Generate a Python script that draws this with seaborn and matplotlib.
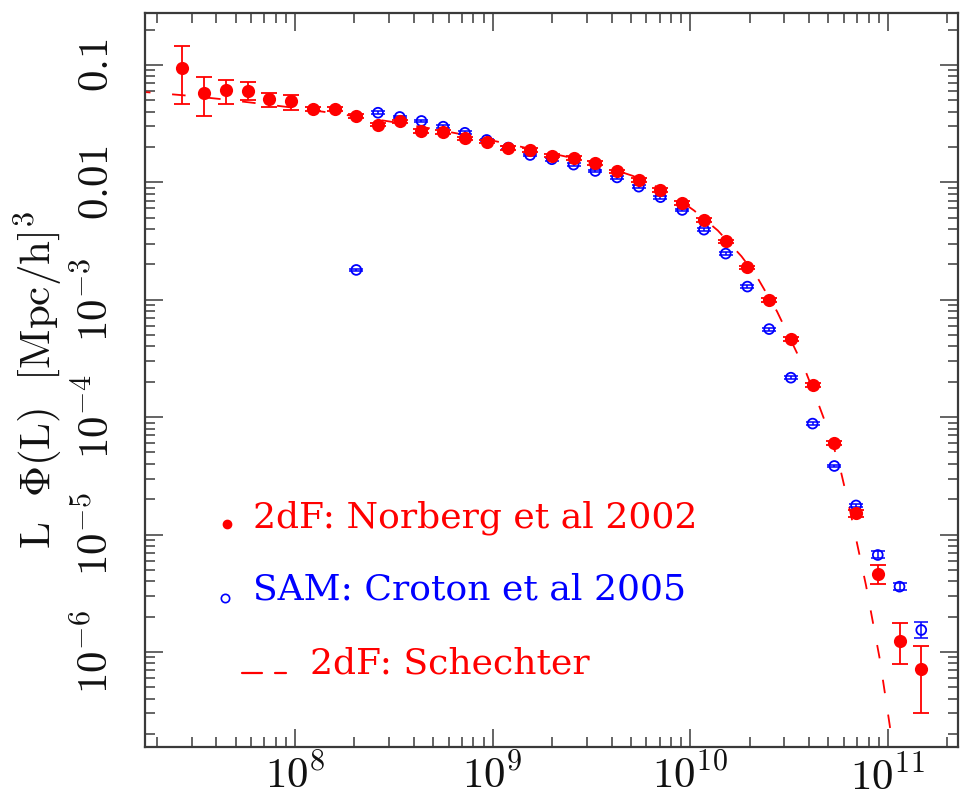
import numpy as np
import matplotlib
matplotlib.use("Agg")
import matplotlib.pyplot as plt
import seaborn as sns
import pandas as pd
from matplotlib.ticker import LogLocator, NullFormatter

# ---------------- data (log10 values) ----------------
log_L_2df = [7.43, 7.54, 7.65, 7.76, 7.87, 7.98, 8.09, 8.20, 8.31, 8.42, 8.53, 8.64,
             8.75, 8.86, 8.97, 9.08, 9.19, 9.30, 9.41, 9.52, 9.63, 9.74, 9.85, 9.96,
             10.07, 10.18, 10.29, 10.40, 10.51, 10.62, 10.73, 10.84, 10.95, 11.06, 11.17]
log_phi_2df = [-1.023, -1.241, -1.213, -1.219, -1.287, -1.307, -1.377, -1.375, -1.434,
               -1.509, -1.481, -1.562, -1.573, -1.626, -1.653, -1.707, -1.724, -1.773,
               -1.794, -1.833, -1.907, -1.980, -2.065, -2.178, -2.320, -2.502, -2.725,
               -3.002, -3.334, -3.727, -4.220, -4.820, -5.336, -5.903, -6.147]
err_up_2df = [0.185, 0.136, 0.085, 0.072, 0.051, 0.051, 0.015, 0.015, 0.015, 0.015,
              0.015, 0.015, 0.015, 0.015, 0.015, 0.015, 0.015, 0.015, 0.015, 0.015,
              0.015, 0.015, 0.015, 0.015, 0.015, 0.015, 0.015, 0.015, 0.015, 0.015,
              0.02, 0.03, 0.077, 0.148, 0.201]
err_dn_2df = [0.312, 0.193, 0.119, 0.079, 0.068, 0.076, 0.015, 0.015, 0.015, 0.015,
              0.015, 0.015, 0.015, 0.015, 0.015, 0.015, 0.015, 0.015, 0.015, 0.015,
              0.015, 0.015, 0.015, 0.015, 0.015, 0.015, 0.015, 0.015, 0.015, 0.015,
              0.02, 0.03, 0.088, 0.199, 0.370]

log_L_sam = [8.31, 8.42, 8.53, 8.64, 8.75, 8.86, 8.97, 9.08, 9.19, 9.30, 9.41, 9.52,
             9.63, 9.74, 9.85, 9.96, 10.07, 10.18, 10.29, 10.40, 10.51, 10.62, 10.73,
             10.84, 10.95, 11.06, 11.17]
log_phi_sam = [-2.746, -1.407, -1.443, -1.477, -1.526, -1.578, -1.639, -1.704, -1.767,
               -1.803, -1.849, -1.903, -1.958, -2.037, -2.126, -2.235, -2.403, -2.607,
               -2.888, -3.250, -3.664, -4.055, -4.416, -4.752, -5.174, -5.444, -5.813]
err_sam = [0.012, 0.012, 0.012, 0.012, 0.012, 0.012, 0.012, 0.012, 0.012, 0.012,
           0.012, 0.012, 0.012, 0.012, 0.012, 0.012, 0.012, 0.012, 0.012, 0.012,
           0.012, 0.012, 0.012, 0.015, 0.03, 0.03, 0.065]

log_L_fit = [7.20, 7.46, 7.62, 7.80, 7.98, 8.14, 8.33, 8.51, 8.70, 8.85, 9.03, 9.37,
             9.58, 9.71, 9.81, 9.92, 10.02, 10.14, 10.26, 10.34, 10.44, 10.58, 10.65,
             10.71, 10.76, 10.81, 10.89, 10.96, 11.01, 11.05]
log_phi_fit = [-1.225, -1.262, -1.290, -1.325, -1.362, -1.398, -1.443, -1.490, -1.545,
               -1.593, -1.655, -1.780, -1.872, -1.945, -2.020, -2.120, -2.240, -2.410,
               -2.630, -2.810, -3.100, -3.590, -3.890, -4.160, -4.440, -4.800, -5.430,
               -6.060, -6.620, -7.100]

legend_labels = ["2dF: Norberg et al 2002", "SAM: Croton et al 2005", "2dF: Schechter"]
x_tick_vals = [1e8, 1e9, 1e10, 1e11]
x_tick_labels = [r"$10^{8}$", r"$10^{9}$", r"$10^{10}$", r"$10^{11}$"]
y_tick_vals = [1e-6, 1e-5, 1e-4, 1e-3, 1e-2, 1e-1]
y_tick_labels = [r"$10^{-6}$", r"$10^{-5}$", r"$10^{-4}$", r"$10^{-3}$", r"$0.01$", r"$0.1$"]
y_label = r"$\mathrm{L\ \ \Phi(L)\ \ [Mpc/h]^{3}}$"

# ---------------- build tables ----------------
df2 = pd.DataFrame({"L": 10 ** np.array(log_L_2df), "phi": 10 ** np.array(log_phi_2df)})
df2["lo"] = df2["phi"] - 10 ** (np.array(log_phi_2df) - np.array(err_dn_2df))
df2["hi"] = 10 ** (np.array(log_phi_2df) + np.array(err_up_2df)) - df2["phi"]
dfs = pd.DataFrame({"L": 10 ** np.array(log_L_sam), "phi": 10 ** np.array(log_phi_sam)})
dfs["lo"] = dfs["phi"] - 10 ** (np.array(log_phi_sam) - np.array(err_sam))
dfs["hi"] = 10 ** (np.array(log_phi_sam) + np.array(err_sam)) - dfs["phi"]
dff = pd.DataFrame({"L": 10 ** np.array(log_L_fit), "phi": 10 ** np.array(log_phi_fit)})

# ---------------- style ----------------
sns.set_theme(style="ticks")
plt.rcParams["font.family"] = ["DejaVu Serif", "DejaVu Sans"]
plt.rcParams["mathtext.fontset"] = "cm"

RED = "#ff0000"
BLUE = "#0000ff"
AX = "#3a3a3a"

fig = plt.figure(figsize=(9.6, 8.0), dpi=100)
ax = fig.add_axes([145 / 960, 53 / 800, 813 / 960, 734 / 800])
ax.set_xscale("log")
ax.set_yscale("log")

# Schechter dashed line
sns.lineplot(data=dff, x="L", y="phi", ax=ax, color=RED, lw=1.3, sort=False,
             estimator=None, zorder=1)
ax.lines[-1].set_dashes((7.5, 12.0))

# SAM points
ax.errorbar(dfs["L"], dfs["phi"], yerr=[dfs["lo"], dfs["hi"]], fmt="none",
            ecolor=BLUE, elinewidth=1.1, capsize=5, capthick=1.1, zorder=2)
sns.scatterplot(data=dfs, x="L", y="phi", ax=ax, marker="o", s=50,
                facecolor="none", edgecolor=BLUE, linewidth=1.3, zorder=3)

# 2dF points
ax.errorbar(df2["L"], df2["phi"], yerr=[df2["lo"], df2["hi"]], fmt="none",
            ecolor=RED, elinewidth=1.3, capsize=6, capthick=1.3, zorder=4)
sns.scatterplot(data=df2, x="L", y="phi", ax=ax, marker="o", s=90,
                color=RED, edgecolor=RED, linewidth=0, zorder=5)

ax.set_xlim(1.74e7, 2.27e11)
ax.set_ylim(1.55e-7, 0.277)

# ticks
ax.set_xticks(x_tick_vals)
ax.set_xticklabels(x_tick_labels)
ax.set_yticks(y_tick_vals)
ax.set_yticklabels(y_tick_labels, rotation=90, va="center")
ax.xaxis.set_minor_locator(LogLocator(base=10, subs=np.arange(2, 10), numticks=20))
ax.yaxis.set_minor_locator(LogLocator(base=10, subs=np.arange(2, 10), numticks=20))
ax.xaxis.set_minor_formatter(NullFormatter())
ax.yaxis.set_minor_formatter(NullFormatter())
ax.tick_params(which="both", direction="in", top=True, right=True, color=AX)
ax.tick_params(which="major", length=13, width=1.1, labelsize=31, labelcolor="#111111")
ax.tick_params(which="minor", length=7, width=1.1)
ax.tick_params(axis="x", which="major", pad=6)
ax.tick_params(axis="y", which="major", pad=20)
for sp in ax.spines.values():
    sp.set_color(AX)
    sp.set_linewidth(1.6)

ax.set_xlabel("")
ax.set_ylabel(y_label, fontsize=31, color="#111111")
ax.yaxis.set_label_coords(-0.098, 0.5)

# legend drawn inside the axes
tr = ax.transAxes
fs = 26
ax.text(0.1328, 0.2997, legend_labels[0], transform=tr, color=RED, fontsize=fs,
        va="baseline", ha="left")
ax.text(0.1328, 0.2003, legend_labels[1], transform=tr, color=BLUE, fontsize=fs,
        va="baseline", ha="left")
ax.text(0.2030, 0.1008, legend_labels[2], transform=tr, color=RED, fontsize=fs,
        va="baseline", ha="left")
ax.plot([0.1009], [0.3038], transform=tr, marker="o", ms=6, color=RED, mec=RED,
        ls="none", clip_on=False)
ax.plot([0.0984], [0.2030], transform=tr, marker="o", ms=6, mfc="none", mec=BLUE,
        mew=1.2, ls="none", clip_on=False)
ax.plot([0.1190, 0.1436], [0.1012, 0.1012], transform=tr, color=RED, lw=1.6)
ax.plot([0.1599, 0.1734], [0.1012, 0.1012], transform=tr, color=RED, lw=1.6)

fig.savefig("out.png", dpi=100)
